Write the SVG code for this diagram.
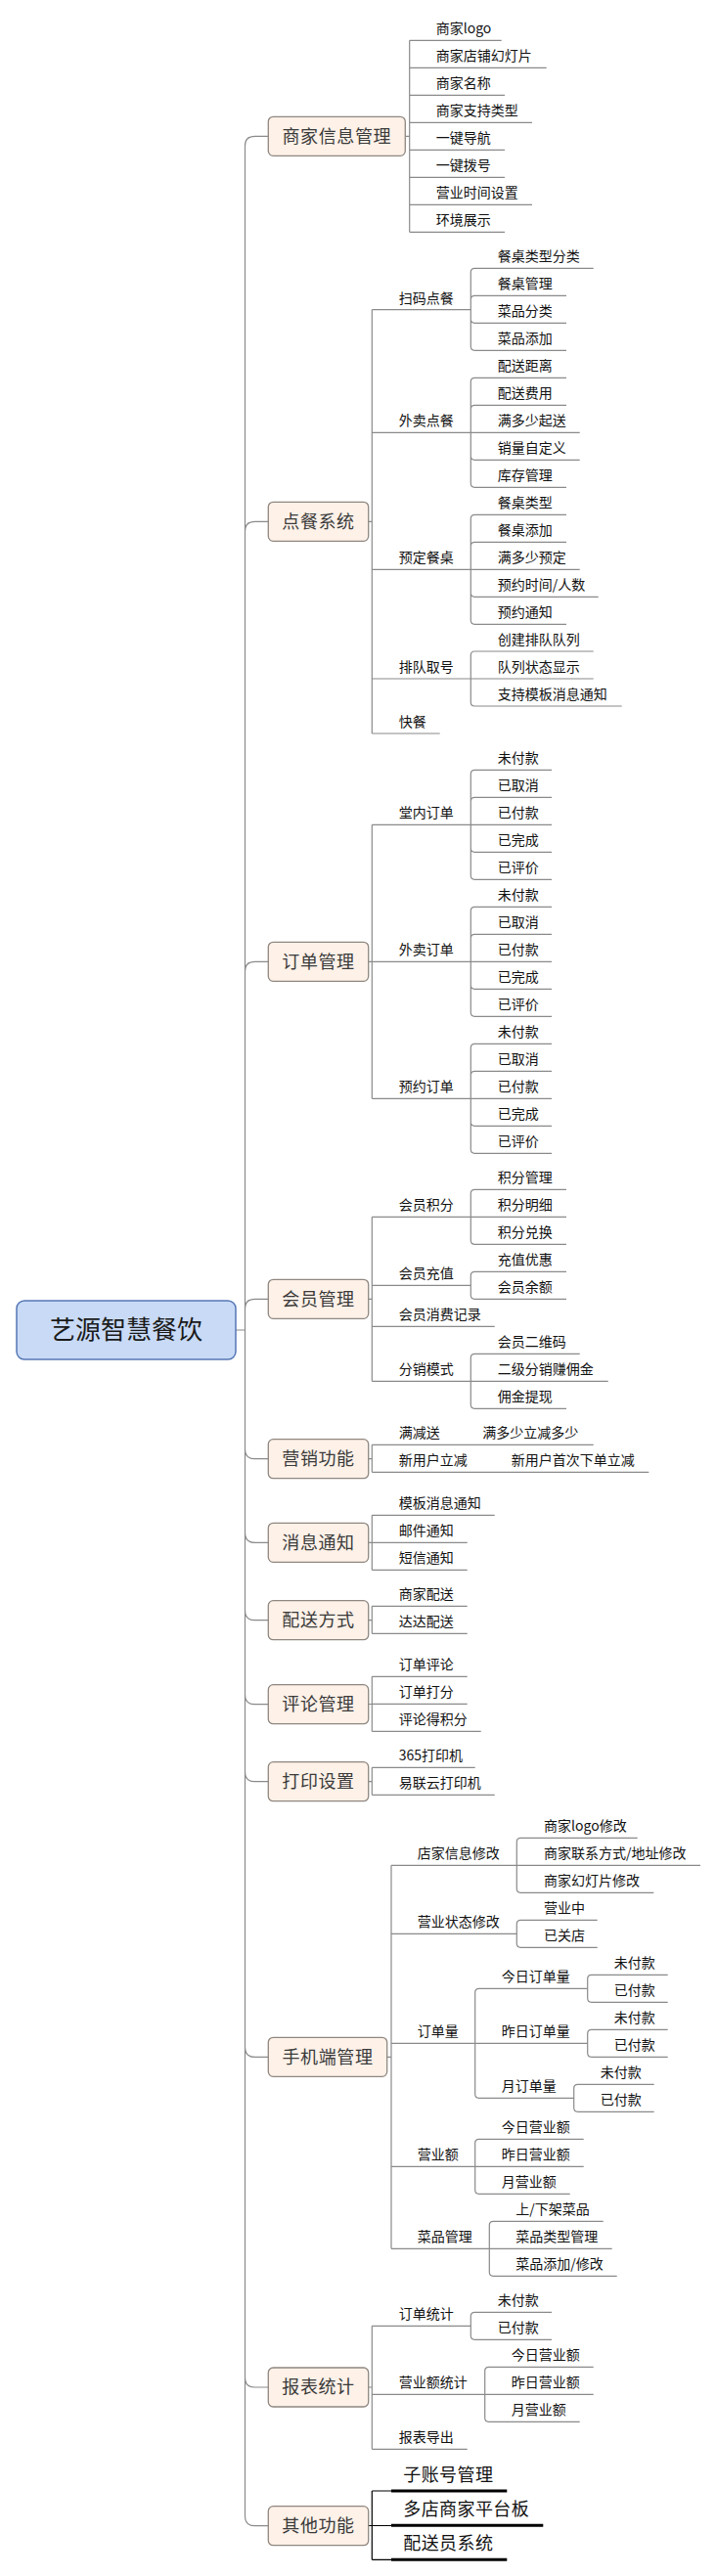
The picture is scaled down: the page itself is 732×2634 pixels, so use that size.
<svg xmlns="http://www.w3.org/2000/svg" width="732" height="2634" viewBox="0 0 732 2634">
<style>
.c{fill:none;stroke:#8a8a8a;stroke-width:1.2}
.k{fill:none;stroke:#000;stroke-width:1.2}
.kb{fill:none;stroke:#000;stroke-width:3}
.b1{fill:#fdf1e8;stroke:#8f8780;stroke-width:1.3}
.t1{font-family:"Noto Sans CJK SC","Noto Sans",sans-serif;font-size:18px;fill:#3a3a3a;text-anchor:middle;letter-spacing:0.6px}
.t{font-family:"Noto Sans CJK SC","Noto Sans",sans-serif;font-size:14px;fill:#111}
.tb{font-family:"Noto Sans CJK SC","Noto Sans",sans-serif;font-size:18px;fill:#111;letter-spacing:0.4px}
.root{fill:#c8daf6;stroke:#5577b5;stroke-width:1.5}
.tr{font-family:"Noto Sans CJK SC",serif;font-size:26px;fill:#1a1a1a;text-anchor:middle}
</style>
<g id="connectors">
<path class="c" d="M241,1360H250.5V149.3Q250.5,139.3 260.5,139.3H274.3M241,1360H250.5V543.3Q250.5,533.3 260.5,533.3H274.3M241,1360H250.5V993.3Q250.5,983.3 260.5,983.3H274.3M241,1360H250.5V1338.3Q250.5,1328.3 260.5,1328.3H274.3M241,1360H250.5V1481.7Q250.5,1491.7 260.5,1491.7H274.3M241,1360H250.5V1567.3Q250.5,1577.3 260.5,1577.3H274.3M241,1360H250.5V1646.7Q250.5,1656.7 260.5,1656.7H274.3M241,1360H250.5V1732.7Q250.5,1742.7 260.5,1742.7H274.3M241,1360H250.5V1811.7Q250.5,1821.7 260.5,1821.7H274.3M241,1360H250.5V2093.3Q250.5,2103.3 260.5,2103.3H274.3M241,1360H250.5V2431Q250.5,2441 260.5,2441H274.3M241,1360H250.5V2572.7Q250.5,2582.7 260.5,2582.7H274.3"/>
<!-- 商家信息管理 -->
<path class="c" d="M414.3,139.3H418.7M418.7,41.3V237.3M418.7,41.3H512.7M418.7,69.3H558.7M418.7,97.3H516M418.7,125.3H544M418.7,153.3H516M418.7,181.3H516M418.7,209.3H544M418.7,237.3H516"/>
<!-- 点餐系统 -->
<path class="c" d="M376.7,533.3H380.3M380.3,316.7V750M380.3,316.7H481.3M380.3,442.3H481.3M380.3,582.3H481.3M380.3,694H481.3M380.3,750H449.7"/>
<path class="c" d="M481.3,316.7V278.3Q481.3,274.3 485.3,274.3H606.7M481.3,316.7V306.3Q481.3,302.3 485.3,302.3H579M481.3,316.7V326.3Q481.3,330.3 485.3,330.3H579M481.3,316.7V354.3Q481.3,358.3 485.3,358.3H579"/>
<path class="c" d="M481.3,442.3V390.3Q481.3,386.3 485.3,386.3H579M481.3,442.3V418.3Q481.3,414.3 485.3,414.3H579M481.3,442.3H592.7M481.3,442.3V466.3Q481.3,470.3 485.3,470.3H592.7M481.3,442.3V494.3Q481.3,498.3 485.3,498.3H579"/>
<path class="c" d="M481.3,582.3V530.3Q481.3,526.3 485.3,526.3H579M481.3,582.3V558.3Q481.3,554.3 485.3,554.3H579M481.3,582.3H592.7M481.3,582.3V606.3Q481.3,610.3 485.3,610.3H611.7M481.3,582.3V634.3Q481.3,638.3 485.3,638.3H579"/>
<path class="c" d="M481.3,694V670Q481.3,666 485.3,666H606.7M481.3,694H606.7M481.3,694V718Q481.3,722 485.3,722H635.7"/>
<!-- 订单管理 -->
<path class="c" d="M376.7,983.3H380.3M380.3,843.3V1123.3M380.3,843.3H481.3M380.3,983.3H481.3M380.3,1123.3H481.3"/>
<path class="c" d="M481.3,843.3V791.3Q481.3,787.3 485.3,787.3H564M481.3,843.3V819.3Q481.3,815.3 485.3,815.3H564M481.3,843.3H564M481.3,843.3V867.3Q481.3,871.3 485.3,871.3H564M481.3,843.3V895.3Q481.3,899.3 485.3,899.3H564"/>
<path class="c" d="M481.3,983.3V931.3Q481.3,927.3 485.3,927.3H564M481.3,983.3V959.3Q481.3,955.3 485.3,955.3H564M481.3,983.3H564M481.3,983.3V1007.3Q481.3,1011.3 485.3,1011.3H564M481.3,983.3V1035.3Q481.3,1039.3 485.3,1039.3H564"/>
<path class="c" d="M481.3,1123.3V1071.3Q481.3,1067.3 485.3,1067.3H564M481.3,1123.3V1099.3Q481.3,1095.3 485.3,1095.3H564M481.3,1123.3H564M481.3,1123.3V1147.3Q481.3,1151.3 485.3,1151.3H564M481.3,1123.3V1175.3Q481.3,1179.3 485.3,1179.3H564"/>
<!-- 会员管理 -->
<path class="c" d="M376.7,1328.3H380.3M380.3,1244.3V1412.3M380.3,1244.3H481.3M380.3,1314.3H481.3M380.3,1356.3H505.7M380.3,1412.3H481.3"/>
<path class="c" d="M481.3,1244.3V1220.3Q481.3,1216.3 485.3,1216.3H579M481.3,1244.3H579M481.3,1244.3V1268.3Q481.3,1272.3 485.3,1272.3H579"/>
<path class="c" d="M481.3,1314.3V1304.3Q481.3,1300.3 485.3,1300.3H579M481.3,1314.3V1324.3Q481.3,1328.3 485.3,1328.3H579"/>
<path class="c" d="M481.3,1412.3V1388.3Q481.3,1384.3 485.3,1384.3H592.7M481.3,1412.3H621.7M481.3,1412.3V1436.3Q481.3,1440.3 485.3,1440.3H579"/>
<!-- 营销功能 -->
<path class="c" d="M376.7,1491.7H380.3M380.3,1477.3V1505.3M380.3,1477.3H606.7M380.3,1505.3H663.3"/>
<!-- 消息通知 -->
<path class="c" d="M376.7,1577.3H380.3M380.3,1549.3V1605.3M380.3,1549.3H505.7M380.3,1577.3H477.7M380.3,1605.3H477.7"/>
<!-- 配送方式 -->
<path class="c" d="M376.7,1656.7H380.3M380.3,1642.3V1670.3M380.3,1642.3H477.7M380.3,1670.3H477.7"/>
<!-- 评论管理 -->
<path class="c" d="M376.7,1742.5H380.3M380.3,1714.3V1770.3M380.3,1714.3H477.7M380.3,1742.3H477.7M380.3,1770.3H491.7"/>
<!-- 打印设置 -->
<path class="c" d="M376.7,1821.7H380.3M380.3,1807.3V1835.3M380.3,1807.3H485.7M380.3,1835.3H505.7"/>
<!-- 手机端管理 -->
<path class="c" d="M395.7,2103.3H400M400,1907.3V2299.3M400,1907.3H528.3M400,1977.3H528.3M400,2089.3H485.7M400,2215.3H485.7M400,2299.3H500.3"/>
<path class="c" d="M528.3,1907.3V1883.3Q528.3,1879.3 532.3,1879.3H651.7M528.3,1907.3H716M528.3,1907.3V1931.3Q528.3,1935.3 532.3,1935.3H668.3"/>
<path class="c" d="M528.3,1977.3V1967.3Q528.3,1963.3 532.3,1963.3H610.7M528.3,1977.3V1987.3Q528.3,1991.3 532.3,1991.3H610.7"/>
<path class="c" d="M485.7,2089.3V2037.3Q485.7,2033.3 489.7,2033.3H600.7M485.7,2089.3H600.7M485.7,2089.3V2141.3Q485.7,2145.3 489.7,2145.3H586.7"/>
<path class="c" d="M600.7,2033.3V2023.3Q600.7,2019.3 604.7,2019.3H682.7M600.7,2033.3V2043.3Q600.7,2047.3 604.7,2047.3H682.7"/>
<path class="c" d="M600.7,2089.3V2079.3Q600.7,2075.3 604.7,2075.3H682.7M600.7,2089.3V2099.3Q600.7,2103.3 604.7,2103.3H682.7"/>
<path class="c" d="M586.7,2145.3V2135.3Q586.7,2131.3 590.7,2131.3H668.7M586.7,2145.3V2155.3Q586.7,2159.3 590.7,2159.3H668.7"/>
<path class="c" d="M485.7,2215.3V2191.3Q485.7,2187.3 489.7,2187.3H596.7M485.7,2215.3H596.7M485.7,2215.3V2239.3Q485.7,2243.3 489.7,2243.3H582.7"/>
<path class="c" d="M500.3,2299.3V2275.3Q500.3,2271.3 504.3,2271.3H616.7M500.3,2299.3H625.7M500.3,2299.3V2323.3Q500.3,2327.3 504.3,2327.3H630.7"/>
<!-- 报表统计 -->
<path class="c" d="M376.7,2441H380.3M380.3,2378.3V2504.3M380.3,2378.3H481.3M380.3,2448.3H495.7M380.3,2504.3H477.7"/>
<path class="c" d="M481.3,2378.3V2368.3Q481.3,2364.3 485.3,2364.3H564M481.3,2378.3V2388.3Q481.3,2392.3 485.3,2392.3H564"/>
<path class="c" d="M495.7,2448.3V2424.3Q495.7,2420.3 499.7,2420.3H606.7M495.7,2448.3H606.7M495.7,2448.3V2472.3Q495.7,2476.3 499.7,2476.3H592.7"/>
<!-- 其他功能 -->
<path class="k" d="M376.7,2582.5H400M380.3,2547V2617.3M380.3,2547H400M380.3,2617.3H400"/>
<path class="kb" d="M400,2547H518.3M400,2582.3H555.3M400,2617.3H518.3"/>
</g>

<g id="root"><rect class="root" x="17" y="1330" width="224" height="60" rx="8"/><text class="tr" x="129" y="1369">艺源智慧餐饮</text></g>

<g id="n1"><rect class="b1" x="274.3" y="119.3" width="140" height="40" rx="5"/><text class="t1" x="344.3" y="145.5">商家信息管理</text></g>
<g id="n1-1"><text class="t" x="445.7" y="34.3">商家logo</text></g>
<g id="n1-2"><text class="t" x="445.7" y="62.3">商家店铺幻灯片</text></g>
<g id="n1-3"><text class="t" x="445.7" y="90.3">商家名称</text></g>
<g id="n1-4"><text class="t" x="445.7" y="118.3">商家支持类型</text></g>
<g id="n1-5"><text class="t" x="445.7" y="146.3">一键导航</text></g>
<g id="n1-6"><text class="t" x="445.7" y="174.3">一键拨号</text></g>
<g id="n1-7"><text class="t" x="445.7" y="202.3">营业时间设置</text></g>
<g id="n1-8"><text class="t" x="445.7" y="230.3">环境展示</text></g>

<g id="n2"><rect class="b1" x="274.3" y="513.3" width="102.4" height="40" rx="5"/><text class="t1" x="325.5" y="539.5">点餐系统</text></g>
<g id="n2-1"><text class="t" x="407.7" y="309.7">扫码点餐</text></g>
<g id="n2-1-1"><text class="t" x="508.7" y="267.3">餐桌类型分类</text></g>
<g id="n2-1-2"><text class="t" x="508.7" y="295.3">餐桌管理</text></g>
<g id="n2-1-3"><text class="t" x="508.7" y="323.3">菜品分类</text></g>
<g id="n2-1-4"><text class="t" x="508.7" y="351.3">菜品添加</text></g>
<g id="n2-2"><text class="t" x="407.7" y="435.3">外卖点餐</text></g>
<g id="n2-2-1"><text class="t" x="508.7" y="379.3">配送距离</text></g>
<g id="n2-2-2"><text class="t" x="508.7" y="407.3">配送费用</text></g>
<g id="n2-2-3"><text class="t" x="508.7" y="435.3">满多少起送</text></g>
<g id="n2-2-4"><text class="t" x="508.7" y="463.3">销量自定义</text></g>
<g id="n2-2-5"><text class="t" x="508.7" y="491.3">库存管理</text></g>
<g id="n2-3"><text class="t" x="407.7" y="575.3">预定餐桌</text></g>
<g id="n2-3-1"><text class="t" x="508.7" y="519.3">餐桌类型</text></g>
<g id="n2-3-2"><text class="t" x="508.7" y="547.3">餐桌添加</text></g>
<g id="n2-3-3"><text class="t" x="508.7" y="575.3">满多少预定</text></g>
<g id="n2-3-4"><text class="t" x="508.7" y="603.3">预约时间/人数</text></g>
<g id="n2-3-5"><text class="t" x="508.7" y="631.3">预约通知</text></g>
<g id="n2-4"><text class="t" x="407.7" y="687">排队取号</text></g>
<g id="n2-4-1"><text class="t" x="508.7" y="659">创建排队队列</text></g>
<g id="n2-4-2"><text class="t" x="508.7" y="687">队列状态显示</text></g>
<g id="n2-4-3"><text class="t" x="508.7" y="715">支持模板消息通知</text></g>
<g id="n2-5"><text class="t" x="407.7" y="743">快餐</text></g>

<g id="n3"><rect class="b1" x="274.3" y="963.3" width="102.4" height="40" rx="5"/><text class="t1" x="325.5" y="989.5">订单管理</text></g>
<g id="n3-1"><text class="t" x="407.7" y="836.3">堂内订单</text></g>
<g id="n3-1-1"><text class="t" x="508.7" y="780.3">未付款</text></g>
<g id="n3-1-2"><text class="t" x="508.7" y="808.3">已取消</text></g>
<g id="n3-1-3"><text class="t" x="508.7" y="836.3">已付款</text></g>
<g id="n3-1-4"><text class="t" x="508.7" y="864.3">已完成</text></g>
<g id="n3-1-5"><text class="t" x="508.7" y="892.3">已评价</text></g>
<g id="n3-2"><text class="t" x="407.7" y="976.3">外卖订单</text></g>
<g id="n3-2-1"><text class="t" x="508.7" y="920.3">未付款</text></g>
<g id="n3-2-2"><text class="t" x="508.7" y="948.3">已取消</text></g>
<g id="n3-2-3"><text class="t" x="508.7" y="976.3">已付款</text></g>
<g id="n3-2-4"><text class="t" x="508.7" y="1004.3">已完成</text></g>
<g id="n3-2-5"><text class="t" x="508.7" y="1032.3">已评价</text></g>
<g id="n3-3"><text class="t" x="407.7" y="1116.3">预约订单</text></g>
<g id="n3-3-1"><text class="t" x="508.7" y="1060.3">未付款</text></g>
<g id="n3-3-2"><text class="t" x="508.7" y="1088.3">已取消</text></g>
<g id="n3-3-3"><text class="t" x="508.7" y="1116.3">已付款</text></g>
<g id="n3-3-4"><text class="t" x="508.7" y="1144.3">已完成</text></g>
<g id="n3-3-5"><text class="t" x="508.7" y="1172.3">已评价</text></g>

<g id="n4"><rect class="b1" x="274.3" y="1308.3" width="102.4" height="40" rx="5"/><text class="t1" x="325.5" y="1334.5">会员管理</text></g>
<g id="n4-1"><text class="t" x="407.7" y="1237.3">会员积分</text></g>
<g id="n4-1-1"><text class="t" x="508.7" y="1209.3">积分管理</text></g>
<g id="n4-1-2"><text class="t" x="508.7" y="1237.3">积分明细</text></g>
<g id="n4-1-3"><text class="t" x="508.7" y="1265.3">积分兑换</text></g>
<g id="n4-2"><text class="t" x="407.7" y="1307.3">会员充值</text></g>
<g id="n4-2-1"><text class="t" x="508.7" y="1293.3">充值优惠</text></g>
<g id="n4-2-2"><text class="t" x="508.7" y="1321.3">会员余额</text></g>
<g id="n4-3"><text class="t" x="407.7" y="1349.3">会员消费记录</text></g>
<g id="n4-4"><text class="t" x="407.7" y="1405.3">分销模式</text></g>
<g id="n4-4-1"><text class="t" x="508.7" y="1377.3">会员二维码</text></g>
<g id="n4-4-2"><text class="t" x="508.7" y="1405.3">二级分销赚佣金</text></g>
<g id="n4-4-3"><text class="t" x="508.7" y="1433.3">佣金提现</text></g>

<g id="n5"><rect class="b1" x="274.3" y="1471.7" width="102.4" height="40" rx="5"/><text class="t1" x="325.5" y="1497.9">营销功能</text></g>
<g id="n5-1"><text class="t" x="407.7" y="1470.3">满减送</text></g>
<g id="n5-1-1"><text class="t" x="493.3" y="1470.3">满多少立减多少</text></g>
<g id="n5-2"><text class="t" x="407.7" y="1498.3">新用户立减</text></g>
<g id="n5-2-1"><text class="t" x="522.7" y="1498.3">新用户首次下单立减</text></g>

<g id="n6"><rect class="b1" x="274.3" y="1557.3" width="102.4" height="40" rx="5"/><text class="t1" x="325.5" y="1583.5">消息通知</text></g>
<g id="n6-1"><text class="t" x="407.7" y="1542.3">模板消息通知</text></g>
<g id="n6-2"><text class="t" x="407.7" y="1570.3">邮件通知</text></g>
<g id="n6-3"><text class="t" x="407.7" y="1598.3">短信通知</text></g>

<g id="n7"><rect class="b1" x="274.3" y="1636.7" width="102.4" height="40" rx="5"/><text class="t1" x="325.5" y="1662.9">配送方式</text></g>
<g id="n7-1"><text class="t" x="407.7" y="1635.3">商家配送</text></g>
<g id="n7-2"><text class="t" x="407.7" y="1663.3">达达配送</text></g>

<g id="n8"><rect class="b1" x="274.3" y="1722.7" width="102.4" height="40" rx="5"/><text class="t1" x="325.5" y="1748.9">评论管理</text></g>
<g id="n8-1"><text class="t" x="407.7" y="1707.3">订单评论</text></g>
<g id="n8-2"><text class="t" x="407.7" y="1735.3">订单打分</text></g>
<g id="n8-3"><text class="t" x="407.7" y="1763.3">评论得积分</text></g>

<g id="n9"><rect class="b1" x="274.3" y="1801.7" width="102.4" height="40" rx="5"/><text class="t1" x="325.5" y="1827.9">打印设置</text></g>
<g id="n9-1"><text class="t" x="407.7" y="1800.3">365打印机</text></g>
<g id="n9-2"><text class="t" x="407.7" y="1828.3">易联云打印机</text></g>

<g id="n10"><rect class="b1" x="274.3" y="2083.3" width="121.4" height="40" rx="5"/><text class="t1" x="335" y="2109.5">手机端管理</text></g>
<g id="n10-1"><text class="t" x="426.7" y="1900.3">店家信息修改</text></g>
<g id="n10-1-1"><text class="t" x="556" y="1872.3">商家logo修改</text></g>
<g id="n10-1-2"><text class="t" x="556" y="1900.3">商家联系方式/地址修改</text></g>
<g id="n10-1-3"><text class="t" x="556" y="1928.3">商家幻灯片修改</text></g>
<g id="n10-2"><text class="t" x="426.7" y="1970.3">营业状态修改</text></g>
<g id="n10-2-1"><text class="t" x="556" y="1956.3">营业中</text></g>
<g id="n10-2-2"><text class="t" x="556" y="1984.3">已关店</text></g>
<g id="n10-3"><text class="t" x="426.7" y="2082.3">订单量</text></g>
<g id="n10-3-1"><text class="t" x="512.7" y="2026.3">今日订单量</text></g>
<g id="n10-3-1-1"><text class="t" x="627.7" y="2012.3">未付款</text></g>
<g id="n10-3-1-2"><text class="t" x="627.7" y="2040.3">已付款</text></g>
<g id="n10-3-2"><text class="t" x="512.7" y="2082.3">昨日订单量</text></g>
<g id="n10-3-2-1"><text class="t" x="627.7" y="2068.3">未付款</text></g>
<g id="n10-3-2-2"><text class="t" x="627.7" y="2096.3">已付款</text></g>
<g id="n10-3-3"><text class="t" x="512.7" y="2138.3">月订单量</text></g>
<g id="n10-3-3-1"><text class="t" x="613.7" y="2124.3">未付款</text></g>
<g id="n10-3-3-2"><text class="t" x="613.7" y="2152.3">已付款</text></g>
<g id="n10-4"><text class="t" x="426.7" y="2208.3">营业额</text></g>
<g id="n10-4-1"><text class="t" x="512.7" y="2180.3">今日营业额</text></g>
<g id="n10-4-2"><text class="t" x="512.7" y="2208.3">昨日营业额</text></g>
<g id="n10-4-3"><text class="t" x="512.7" y="2236.3">月营业额</text></g>
<g id="n10-5"><text class="t" x="426.7" y="2292.3">菜品管理</text></g>
<g id="n10-5-1"><text class="t" x="527.3" y="2264.3">上/下架菜品</text></g>
<g id="n10-5-2"><text class="t" x="527.3" y="2292.3">菜品类型管理</text></g>
<g id="n10-5-3"><text class="t" x="527.3" y="2320.3">菜品添加/修改</text></g>

<g id="n11"><rect class="b1" x="274.3" y="2421" width="102.4" height="40" rx="5"/><text class="t1" x="325.5" y="2447.2">报表统计</text></g>
<g id="n11-1"><text class="t" x="407.7" y="2371.3">订单统计</text></g>
<g id="n11-1-1"><text class="t" x="508.7" y="2357.3">未付款</text></g>
<g id="n11-1-2"><text class="t" x="508.7" y="2385.3">已付款</text></g>
<g id="n11-2"><text class="t" x="407.7" y="2441.3">营业额统计</text></g>
<g id="n11-2-1"><text class="t" x="522.7" y="2413.3">今日营业额</text></g>
<g id="n11-2-2"><text class="t" x="522.7" y="2441.3">昨日营业额</text></g>
<g id="n11-2-3"><text class="t" x="522.7" y="2469.3">月营业额</text></g>
<g id="n11-3"><text class="t" x="407.7" y="2497.3">报表导出</text></g>

<g id="n12"><rect class="b1" x="274.3" y="2562.7" width="102.4" height="40" rx="5"/><text class="t1" x="325.5" y="2588.9">其他功能</text></g>
<g id="n12-1"><text class="tb" x="412.3" y="2537">子账号管理</text></g>
<g id="n12-2"><text class="tb" x="412.3" y="2572.3">多店商家平台板</text></g>
<g id="n12-3"><text class="tb" x="412.3" y="2607.3">配送员系统</text></g>
</svg>
